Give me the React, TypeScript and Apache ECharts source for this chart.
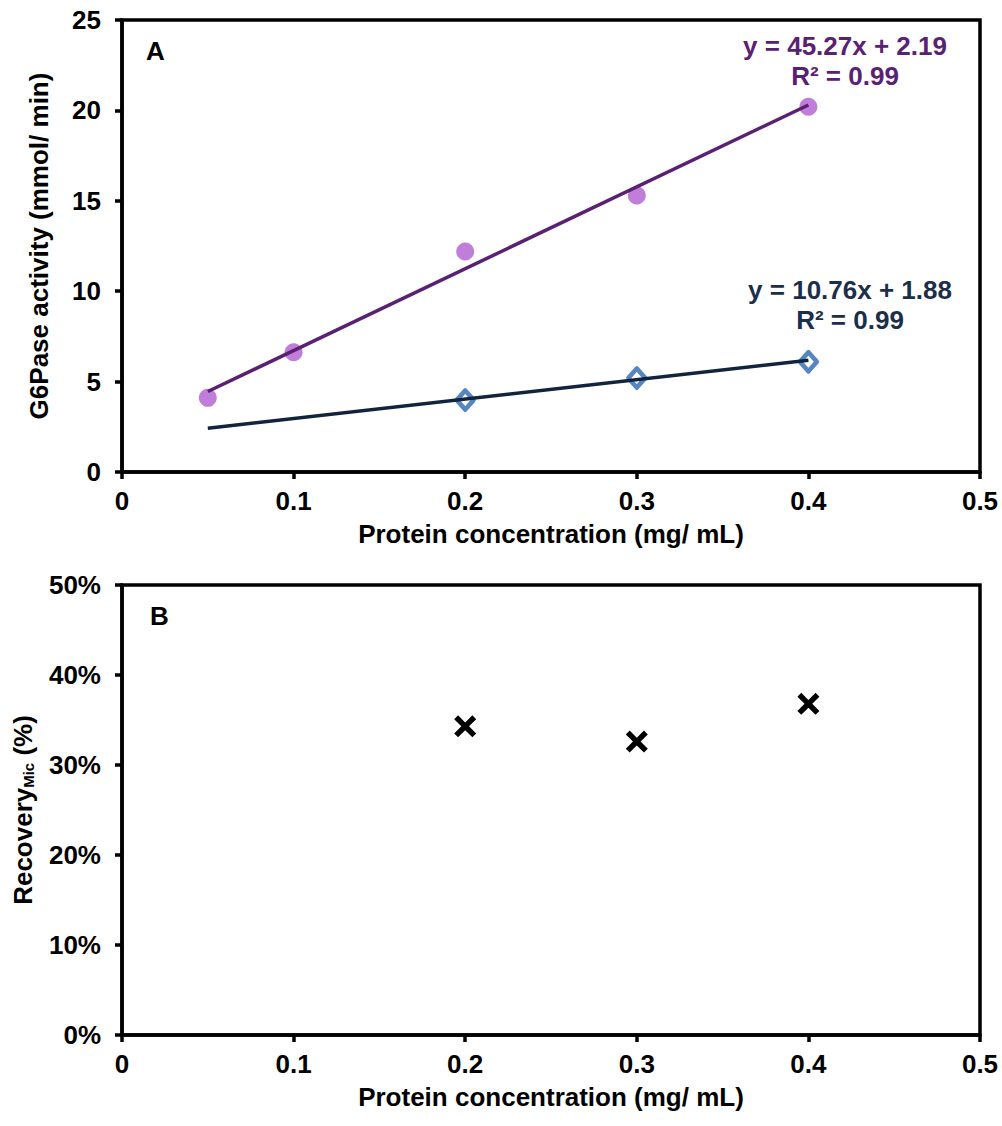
import React, { useEffect, useRef } from "react";
import * as echarts from "echarts";

const xTicksMax = 0.5;
const purpleX = [0.05, 0.1, 0.2, 0.3, 0.4];
const purpleY = [4.1, 6.62, 12.2, 15.3, 20.2];
const blueX = [0.2, 0.3, 0.4];
const blueY = [3.98, 5.2, 6.1];
const trendPurple = [
  [0.05, 4.45],
  [0.4, 20.3],
];
const trendBlue = [
  [0.05, 2.42],
  [0.4, 6.18],
];
const recoveryX = [0.2, 0.3, 0.4];
const recoveryY = [34.3, 32.6, 36.8];

const eqPurple = ["y = 45.27x + 2.19", "R² = 0.99"];
const eqBlue = ["y = 10.76x + 1.88", "R² = 0.99"];

const FONT = "Liberation Sans, Arial, sans-serif";
const FS = 26;
const CROSS =
  "path://M0,3.5 L3.5,0 L10,6.5 L16.5,0 L20,3.5 L13.5,10 L20,16.5 L16.5,20 L10,13.5 L3.5,20 L0,16.5 L6.5,10 Z";

export default function App() {
  const ref = useRef<HTMLDivElement>(null);
  useEffect(() => {
    document.body.style.margin = "0";
    const chart = echarts.init(ref.current!, null, { renderer: "svg" });
    const axisCommon = {
      axisLine: { show: true, onZero: false, lineStyle: { color: "#000", width: 3.5 } },
      axisTick: { show: true, inside: false, length: 7, lineStyle: { color: "#000", width: 3.5 } },
      splitLine: { show: false },
    };
    const labelStyle = { color: "#000", fontFamily: FONT, fontWeight: "bold" as const, fontSize: FS };
    const nameStyle = { color: "#000", fontFamily: FONT, fontWeight: "bold" as const, fontSize: FS };
    const xAxisFor = (gi: number) => ({
      type: "value",
      gridIndex: gi,
      min: 0,
      max: xTicksMax,
      interval: 0.1,
      ...axisCommon,
      axisLabel: { ...labelStyle, margin: 16 },
      name: "Protein concentration (mg/ mL)",
      nameLocation: "middle",
      nameGap: 49,
      nameTextStyle: nameStyle,
    });
    const pos = (arrX: number[], arrY: number[]) => arrX.map((x, i) => [x, arrY[i]]);
    chart.setOption({
      animation: false,
      backgroundColor: "#fff",
      grid: [
        { left: 122, top: 20, width: 858, height: 452, show: true, borderColor: "#000", borderWidth: 3.5, backgroundColor: "transparent" },
        { left: 122, top: 585, width: 858, height: 450, show: true, borderColor: "#000", borderWidth: 3.5, backgroundColor: "transparent" },
      ],
      xAxis: [xAxisFor(0), xAxisFor(1)],
      yAxis: [
        {
          type: "value",
          gridIndex: 0,
          min: 0,
          max: 25,
          interval: 5,
          ...axisCommon,
          axisLabel: { ...labelStyle, margin: 21 },
          name: "G6Pase activity (mmol/ min)",
          nameLocation: "middle",
          nameGap: 70,
          nameTextStyle: nameStyle,
        },
        {
          type: "value",
          gridIndex: 1,
          min: 0,
          max: 50,
          interval: 10,
          ...axisCommon,
          axisLabel: { ...labelStyle, margin: 21, formatter: (v: number) => v + "%" },
          name: "Recovery{sub|Mic} (%)",
          nameLocation: "middle",
          nameGap: 86,
          nameTextStyle: {
            ...nameStyle,
            rich: {
              sub: { fontFamily: FONT, fontWeight: "bold", fontSize: 15, color: "#000", padding: [12, 0, 0, 0] },
            },
          },
        },
      ],
      series: [
        {
          type: "scatter",
          xAxisIndex: 0,
          yAxisIndex: 0,
          data: pos(purpleX, purpleY),
          symbol: "circle",
          symbolSize: 18,
          itemStyle: { color: "#B05CD0" },
          z: 2,
        },
        {
          type: "scatter",
          xAxisIndex: 0,
          yAxisIndex: 0,
          data: pos(blueX, blueY),
          symbol: "diamond",
          symbolSize: [17, 19],
          itemStyle: { color: "#fff", borderColor: "#2A68B2", borderWidth: 4.5, borderJoin: "round" },
          z: 2,
        },
        {
          type: "line",
          xAxisIndex: 0,
          yAxisIndex: 0,
          data: trendPurple,
          symbol: "none",
          lineStyle: { color: "#5A2172", width: 3.5 },
          z: 3,
        },
        {
          type: "line",
          xAxisIndex: 0,
          yAxisIndex: 0,
          data: trendBlue,
          symbol: "none",
          lineStyle: { color: "#12233D", width: 3.5 },
          z: 3,
        },
        {
          type: "scatter",
          xAxisIndex: 1,
          yAxisIndex: 1,
          data: pos(recoveryX, recoveryY),
          symbol: CROSS,
          symbolSize: 22,
          itemStyle: { color: "#000", opacity: 1 },
        },
      ],
      graphic: [
        { type: "text", left: 146, top: 38, style: { text: "A", font: `bold ${FS}px ${FONT}`, fill: "#000" } },
        { type: "text", left: 150, top: 603, style: { text: "B", font: `bold ${FS}px ${FONT}`, fill: "#000" } },
        { type: "text", x: 845, y: 46, style: { text: eqPurple[0], font: `bold ${FS}px ${FONT}`, fill: "#5A2172", align: "center", verticalAlign: "middle" } },
        { type: "text", x: 845, y: 76, style: { text: eqPurple[1], font: `bold ${FS}px ${FONT}`, fill: "#5A2172", align: "center", verticalAlign: "middle" } },
        { type: "text", x: 850, y: 290, style: { text: eqBlue[0], font: `bold ${FS}px ${FONT}`, fill: "#1B2F4B", align: "center", verticalAlign: "middle" } },
        { type: "text", x: 850, y: 320, style: { text: eqBlue[1], font: `bold ${FS}px ${FONT}`, fill: "#1B2F4B", align: "center", verticalAlign: "middle" } },
      ],
    });
    return () => chart.dispose();
  }, []);
  return <div ref={ref} style={{ width: 1002, height: 1126 }} />;
}
